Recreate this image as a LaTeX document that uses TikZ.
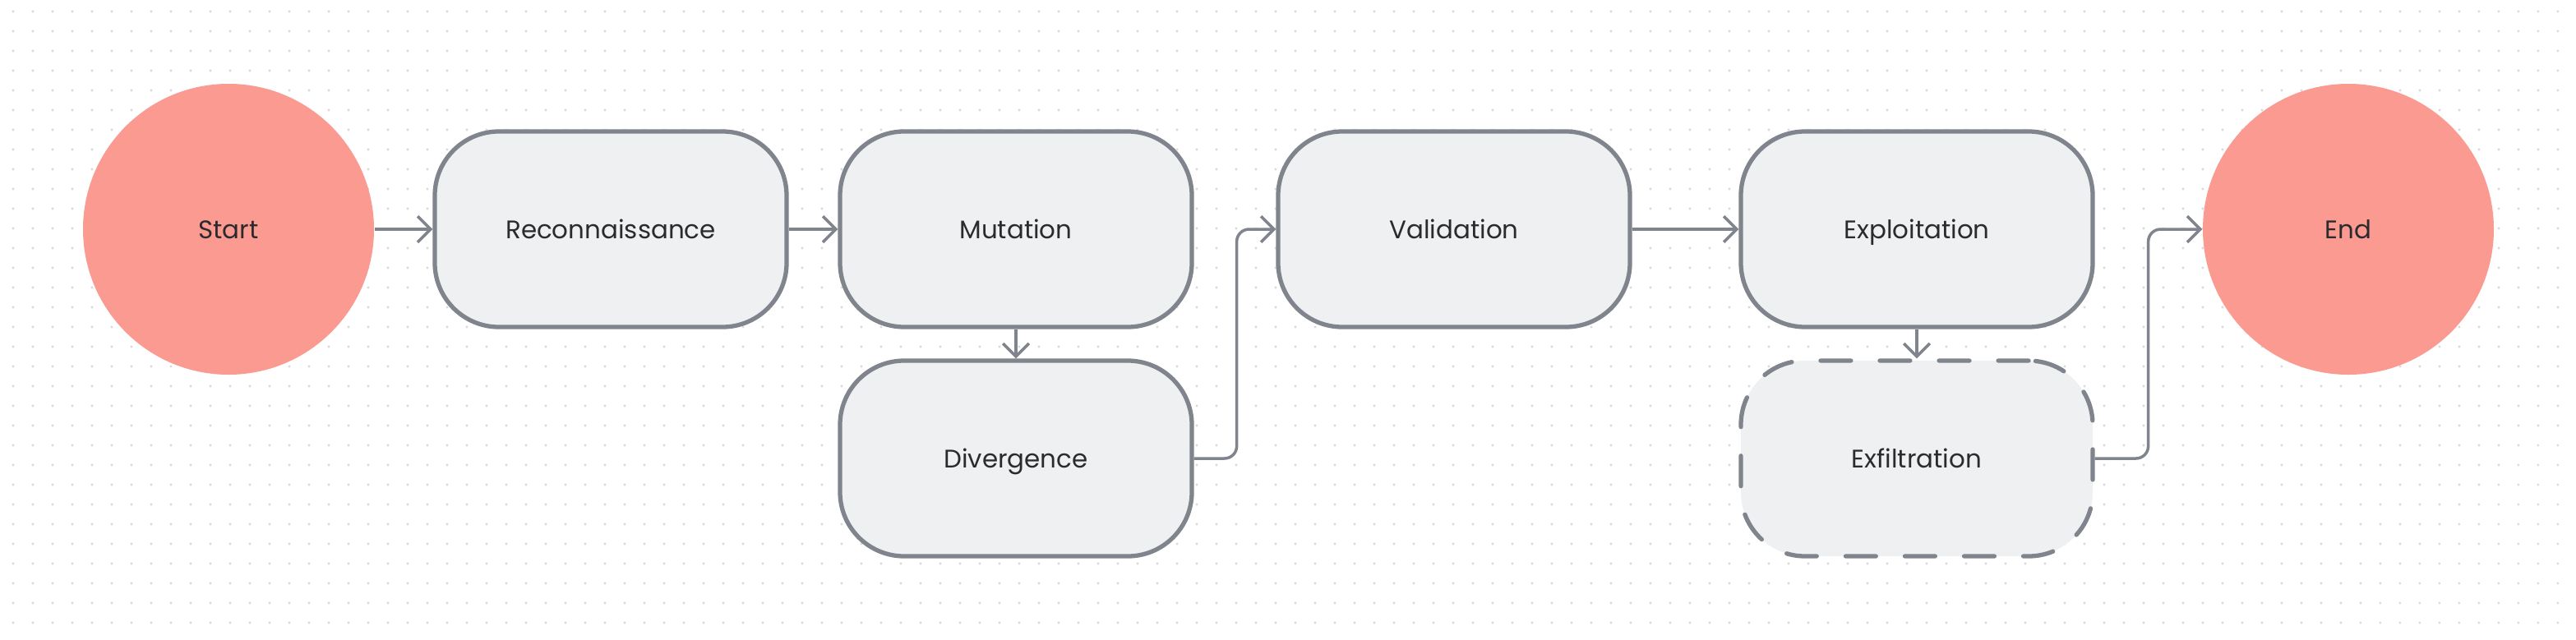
\documentclass[tikz,border=0pt]{standalone}
\usepackage{fontspec}
\setmainfont{Poppins}
\usetikzlibrary{arrows.meta}
\definecolor{salmon}{HTML}{FA9A90}
\definecolor{boxfill}{HTML}{EFF0F2}
\definecolor{edge}{HTML}{80848C}
\definecolor{dotgray}{HTML}{D9DADC}
\definecolor{ink}{HTML}{2B2B2E}
\tikzset{
    stage/.style={draw=edge, fill=boxfill, line width=1.5pt, rounded corners=0.78cm,
        minimum width=4.28cm, minimum height=2.38cm, text=ink,
        text height=1.6ex, text depth=0.4ex,
        font=\fontsize{8.8}{10}\selectfont},
    terminal/.style={circle, fill=salmon, minimum size=3.54cm, text=ink,
        text height=1.6ex, text depth=0.4ex,
        font=\fontsize{8.8}{10}\selectfont},
    flow/.style={draw=edge, line width=1pt, -{Straight Barb[length=4.5pt,width=9pt,line width=1pt]}}
}
\begin{document}
\begin{tikzpicture}
    \useasboundingbox (0,0) rectangle (31.34,7.78);
    \fill[white] (0,0) rectangle (31.34,7.78);
    % Dot grid %
    \foreach \x in {0.16,0.40,...,31.30}
        \foreach \y in {0.20,0.44,...,7.70}
            \fill[dotgray] (\x,\y) circle (0.016);

    % Nodes %
    \node[terminal] (start) at (2.78,4.99) {Start};
    \node[stage] (recon) at (7.43,4.99) {Reconnaissance};
    \node[stage] (mutation) at (12.36,4.99) {Mutation};
    \node[stage] (divergence) at (12.36,2.20) {Divergence};
    \node[stage] (validation) at (17.69,4.99) {Validation};
    \node[stage] (exploitation) at (23.32,4.99) {Exploitation};
    \node[stage, dash pattern=on 10.5pt off 10pt, line cap=round] (exfiltration) at (23.32,2.20) {Exfiltration};
    \node[terminal] (finish) at (28.57,4.99) {End};

    % Connectors %
    \draw[flow] (start) -- (recon);
    \draw[flow] (recon) -- (mutation);
    \draw[flow] (mutation) -- (divergence);
    \draw[flow, rounded corners=0.15cm] (divergence.east) -- ++(0.52,0) |- (validation.west);
    \draw[flow] (validation) -- (exploitation);
    \draw[flow] (exploitation) -- (exfiltration);
    \draw[flow, rounded corners=0.15cm] (exfiltration.east) -- ++(0.65,0) |- (finish.west);
\end{tikzpicture}
\end{document}
